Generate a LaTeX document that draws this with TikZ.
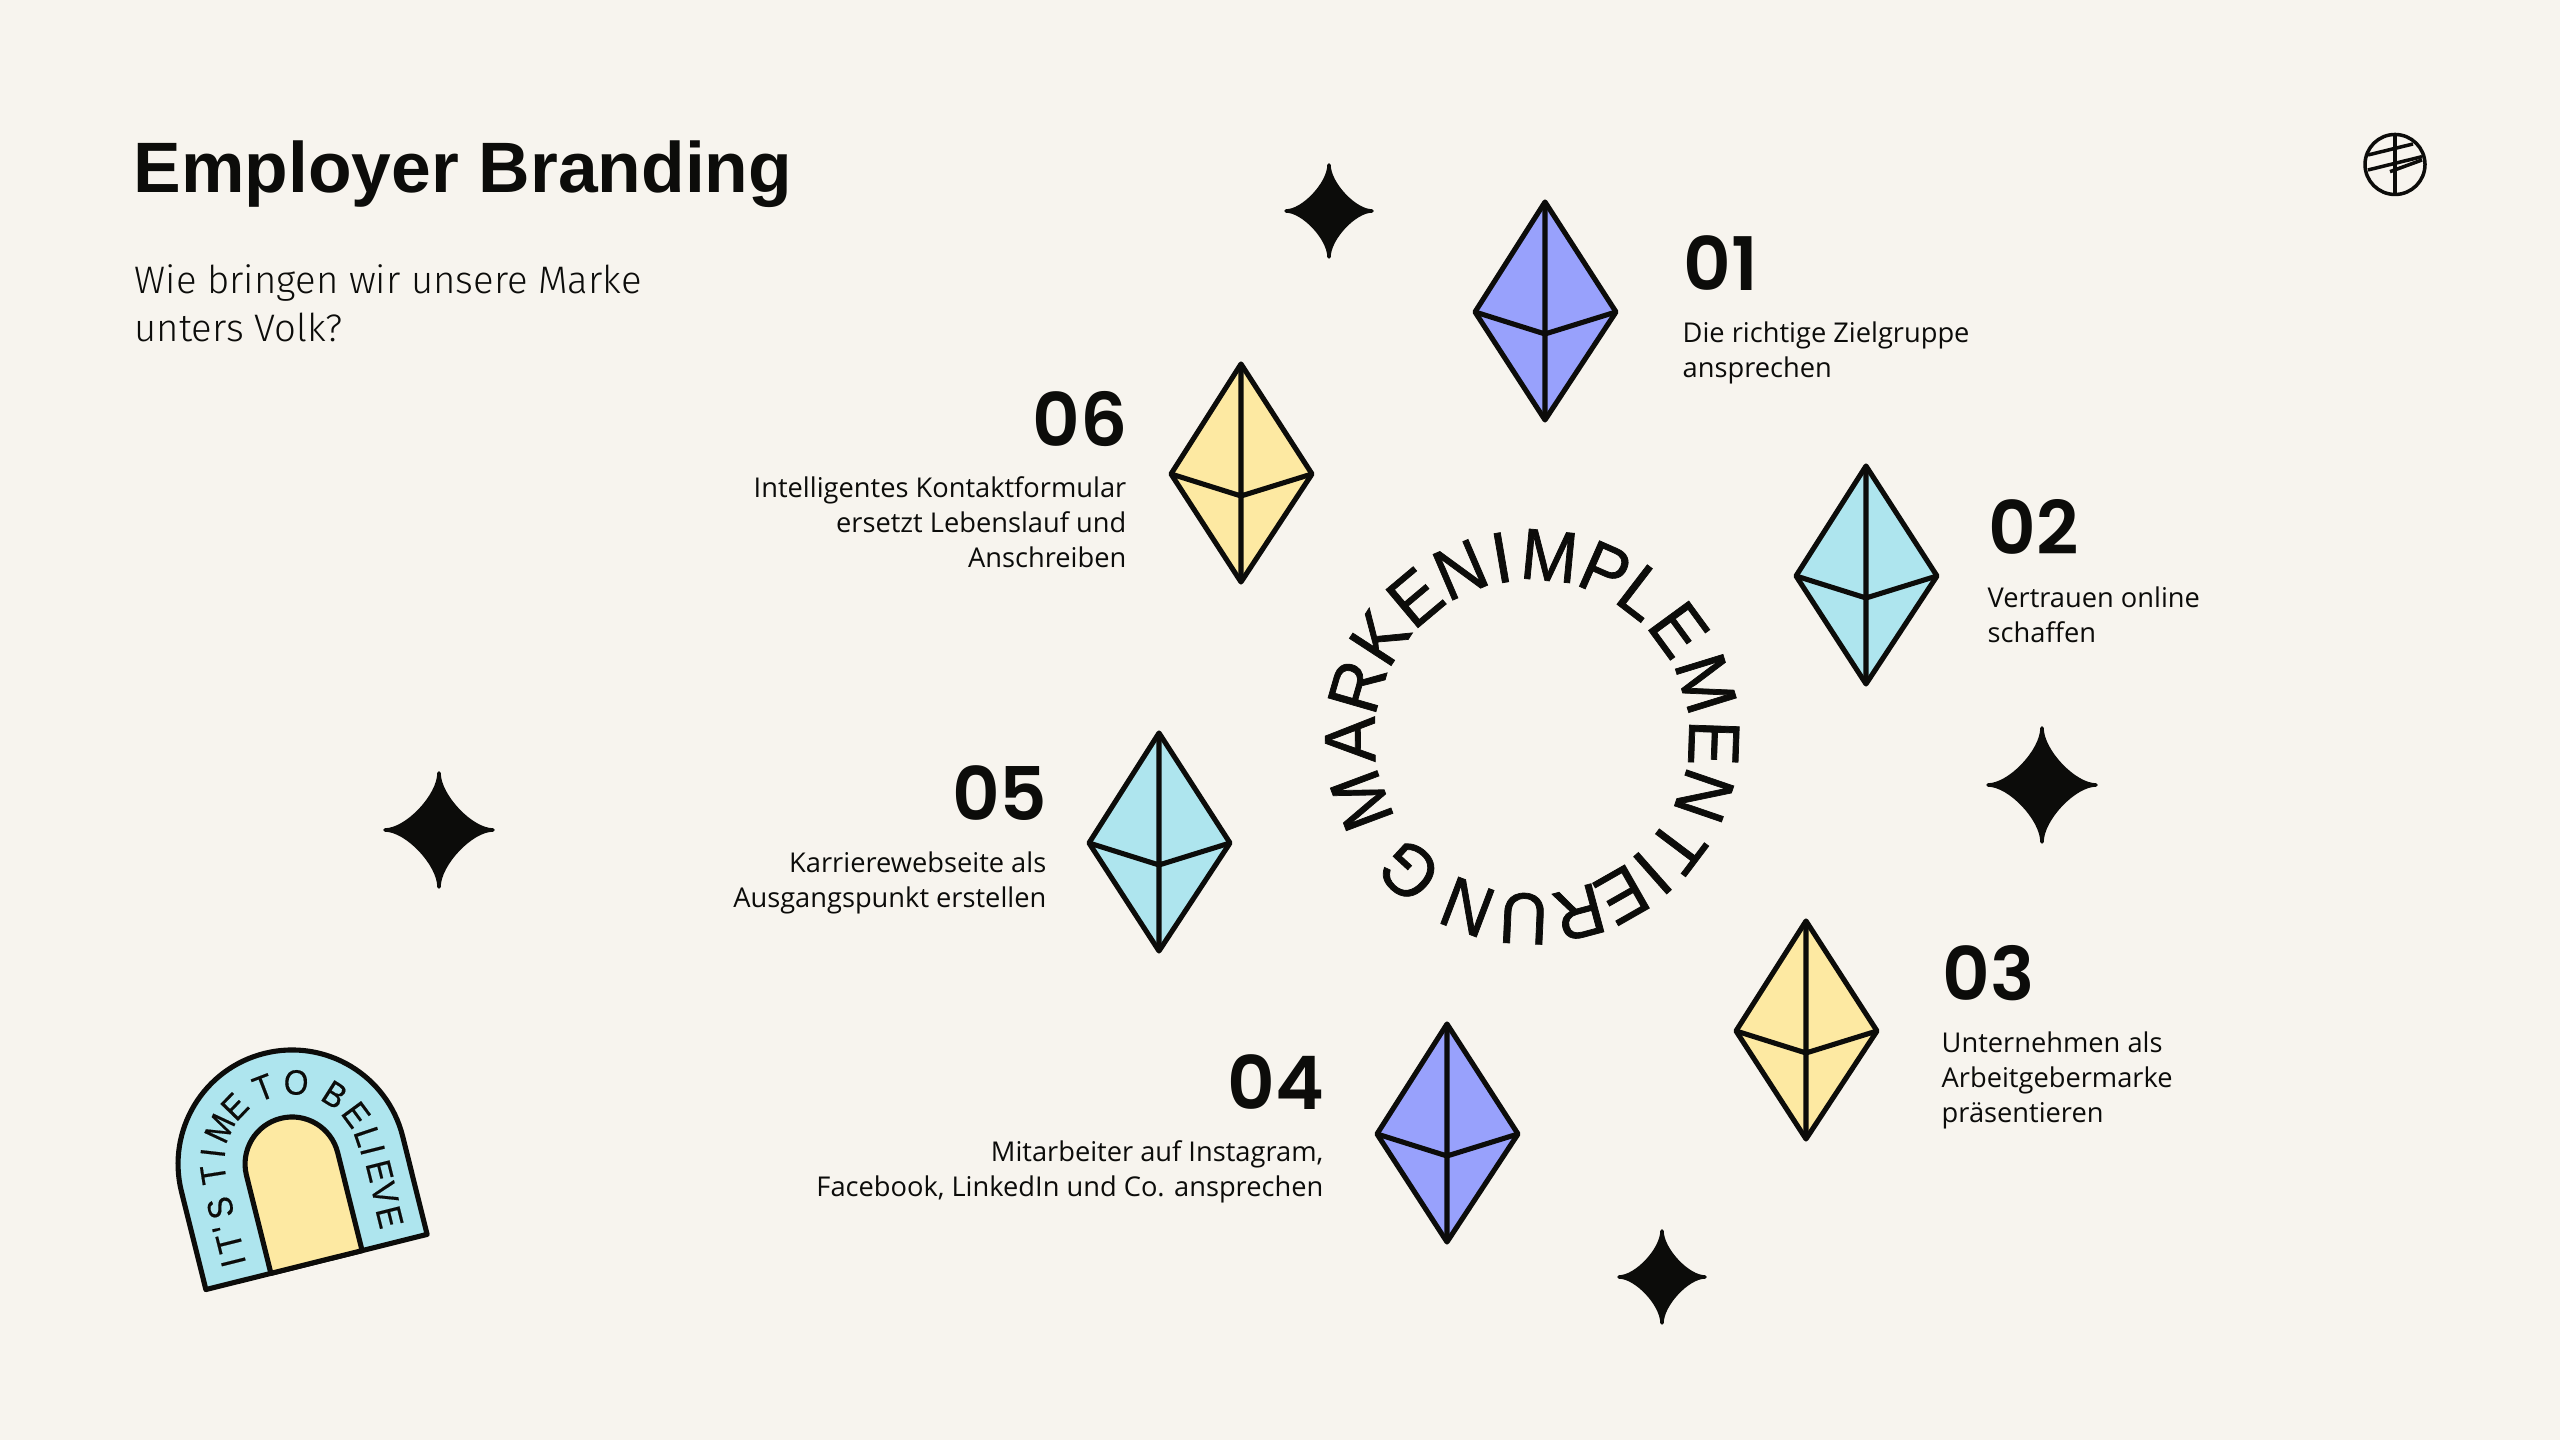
\documentclass[tikz,border=0pt]{standalone}
\usepackage{fontspec}
\setmainfont{Liberation Sans}
\newfontfamily\lightfont{Fira Sans Light}
\newfontfamily\bodyfont{Open Sans}
\newfontfamily\numfont{Poppins SemiBold}
\newfontfamily\ringfont[FakeBold=1,FakeStretch=0.94]{Liberation Sans}
\newfontfamily\badgefont[FakeBold=0.4,FakeStretch=0.9]{Liberation Sans}
\definecolor{paper}{HTML}{F7F4EE}
\definecolor{ink}{HTML}{0C0C0A}
\definecolor{gemblue}{HTML}{98A1FC}
\definecolor{gemcyan}{HTML}{AEE5EE}
\definecolor{gemyellow}{HTML}{FDE9A2}
\tikzset{
  gemline/.style={draw=ink,line width=1.45pt,line join=round},
  gemnum/.style={font=\numfont\fontsize{21pt}{24pt}\selectfont,text=ink,inner sep=0pt},
  gemtext/.style={font=\bodyfont\fontsize{7.75pt}{9.96pt}\selectfont,text=ink,inner sep=0pt},
  ringletter/.style={font=\ringfont\fontsize{20.6pt}{24pt}\selectfont,text=ink,inner sep=0pt,text height=14.8pt,text depth=0pt},
  badgeletter/.style={font=\badgefont\fontsize{10pt}{12pt}\selectfont,text=ink,inner sep=0pt,text height=7.1pt,text depth=0pt},
}
\begin{document}
\begin{tikzpicture}[x=0.01cm,y=0.01cm]
      \fill[paper] (0,0) rectangle (2560,1440);
      \node[anchor=base west,inner sep=0pt,text=ink,font=\bfseries\fontsize{20.3pt}{24pt}\selectfont] (title) at (133,1247) {Employer Branding};
      \node[anchor=base west,inner sep=0pt,text=ink,align=left,font=\lightfont\fontsize{10.9pt}{13.66pt}\selectfont] (subtitle) at (134,1098) {Wie bringen wir unsere Marke\\unters Volk?};
      \foreach \gx/\gy/\col in {1545/1128/gemblue,1866/864/gemcyan,1806/409/gemyellow,1447/306/gemblue,1159/597/gemcyan,1241/966/gemyellow} {
        \begin{scope}[shift={(\gx,\gy)}]
          \draw[gemline,fill=\col] (0,110) -- (71,0) -- (0,-108) -- (-70,0) -- cycle;
          \draw[gemline] (0,110) -- (0,-108) (-70,0) -- (0,-22) -- (71,0);
        \end{scope}
      }
      \node[gemnum,anchor=base west] (num1) at (1683,1149) {01};
      \node[gemnum,anchor=base west] (num2) at (1988,885) {02};
      \node[gemnum,anchor=base west] (num3) at (1942,439) {03};
      \node[gemnum,anchor=base east] (num4) at (1325,330) {04};
      \node[gemnum,anchor=base east] (num5) at (1048,619) {05};
      \node[gemnum,anchor=base east] (num6) at (1128,993) {06};
      \node[gemtext,anchor=base west,align=left] (txt1) at (1682,1062) {Die richtige Zielgruppe\\ansprechen};
      \node[gemtext,anchor=base west,align=left] (txt2) at (1987,797) {Vertrauen online\\schaffen};
      \node[gemtext,anchor=base west,align=left] (txt3) at (1941,317) {Unternehmen als\\Arbeitgebermarke\\präsentieren};
      \node[gemtext,anchor=base east,align=right] (txt4) at (1324,243) {Mitarbeiter auf Instagram,\\Facebook, LinkedIn und Co. ansprechen};
      \node[gemtext,anchor=base east,align=right] (txt5) at (1047,532) {Karrierewebseite als\\Ausgangspunkt erstellen};
      \node[gemtext,anchor=base east,align=right] (txt6) at (1127,872) {Intelligentes Kontaktformular\\ersetzt Lebenslauf und\\Anschreiben};
      \coordinate (ringcenter) at (1532,703);
      \foreach \ang/\ch [count=\i] in {200.5/M,180.8/A,163.9/R,146.9/K,130/E,113.2/N,99.7/I,84.5/M,66.3/P,52.5/L,36.2/E,17.1/M,-1.9/E,-18.9/N,-37/T,-48.5/I,-60.3/E,-75/R,-92.6/U,-110.8/N,-132.6/G} {
        \node[ringletter,rotate=\ang-90] (ring\i) at ([shift={(\ang:183)}]ringcenter) {\ch};
      }
      \foreach \sx/\sy/\rx/\ry in {439/610/54/57,2042/655/54/57,1329/1229/43/46,1662/163/43/46} {
        \fill[ink,draw=ink,line width=1pt,line join=round,shift={(\sx,\sy)}] (\rx,0) .. controls (.6*\rx,0) and (0,.6*\ry) .. (0,\ry) .. controls (0,.6*\ry) and (-.6*\rx,0) .. (-\rx,0) .. controls (-.6*\rx,0) and (0,-.6*\ry) .. (0,-\ry) .. controls (0,-.6*\ry) and (.6*\rx,0) .. cycle;
      }
      \draw[ink,line width=1pt] (2395,1275.5) circle (30);
      \draw[ink,line width=1pt] (2395,1305) -- (2395,1245);
      \draw[ink,line width=1pt] (2368,1285) -- (2413,1296);
      \draw[ink,line width=1pt] (2368,1270) -- (2422,1283.3);
      \draw[ink,line width=1pt] (2390,1268.3) -- (2422,1280);
      \begin{scope}[shift={(316.5,178)},rotate=14]
        \draw[gemline,fill=gemcyan] (-114,0) -- (-114,101) arc[start angle=180,end angle=0,radius=114] -- (114,0) -- cycle;
        \draw[gemline,fill=gemyellow] (-47,0) -- (-47,101) arc[start angle=180,end angle=0,radius=47] -- (47,0) -- cycle;
      \end{scope}
      \coordinate (badgecenter) at (292,278);
      \foreach \ang/\ch [count=\i] in {189/T,173.5/I,155/M,136/E,111/T,87/O,57.6/B,36.4/E,18.6/L} {
        \node[badgeletter,rotate=\ang-90] (arch\i) at ([shift={(\ang:80)}]badgecenter) {\ch};
      }
      \foreach \lx/\ly/\rot/\ch [count=\i] in {233/178/104/I,229/197/104/T,224/212/104/{'},220/232/104/S,373/290/-76/I,380/269/-76/E,385/247/-76/V,390/223/-76/E} {
        \node[badgeletter,rotate=\rot] (side\i) at (\lx,\ly) {\ch};
      }
    \end{tikzpicture}
\end{document}
